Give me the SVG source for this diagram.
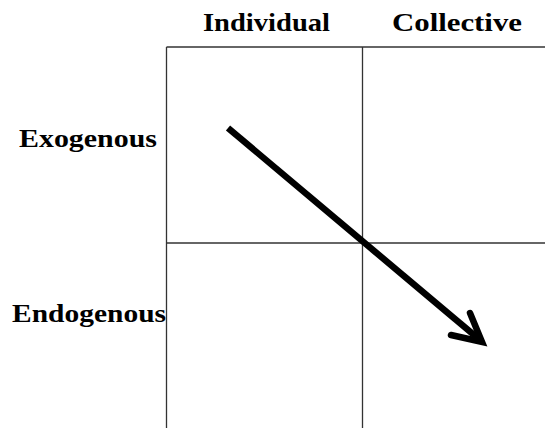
<svg xmlns="http://www.w3.org/2000/svg" width="545" height="428" viewBox="0 0 545 428">
<style>
.grid{stroke:#333;stroke-width:1.3;fill:none}
.lbl{font-family:"Liberation Serif","Times New Roman",serif;font-size:25px;font-weight:bold;fill:#000}
.arr{stroke:#000;stroke-width:6.5;fill:none}
</style>
<rect width="545" height="428" fill="#fff"/>
<g id="grid">
<line class="grid" x1="166.5" y1="47" x2="545" y2="47"/>
<line class="grid" x1="166.5" y1="47" x2="166.5" y2="428"/>
<line class="grid" x1="362.5" y1="47" x2="362.5" y2="428"/>
<line class="grid" x1="166.5" y1="243" x2="545" y2="243"/>
</g>
<g id="col-individual"><text class="lbl" x="203" y="31" textLength="127" lengthAdjust="spacingAndGlyphs">Individual</text></g>
<g id="col-collective"><text class="lbl" x="392" y="31" textLength="130" lengthAdjust="spacingAndGlyphs">Collective</text></g>
<g id="row-exogenous"><text class="lbl" x="19" y="147" textLength="138" lengthAdjust="spacingAndGlyphs">Exogenous</text></g>
<g id="row-endogenous"><text class="lbl" x="12" y="322" textLength="154" lengthAdjust="spacingAndGlyphs">Endogenous</text></g>
<g id="connectors">
<line class="arr" x1="228" y1="128" x2="480" y2="340" stroke-linecap="butt"/>
<polyline class="arr" points="470,313 482,342 451,335" stroke-linecap="round" stroke-linejoin="miter"/>
</g>
</svg>
